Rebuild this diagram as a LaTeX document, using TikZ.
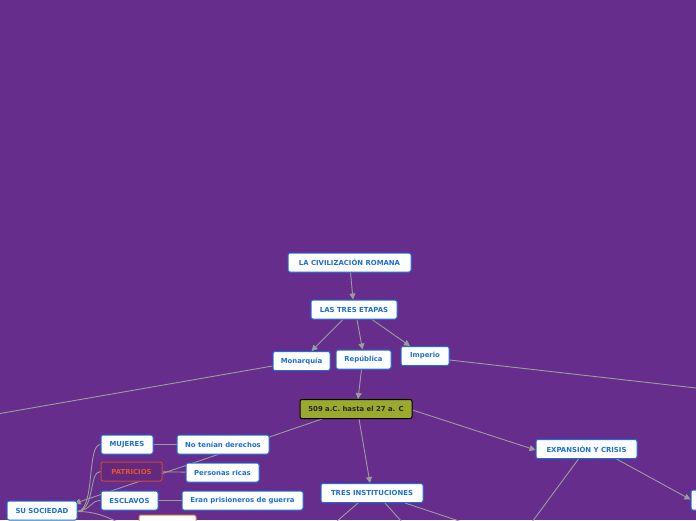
\documentclass[tikz,border=0pt]{standalone}
\usepackage{fontspec}
\setmainfont{DejaVu Sans}
\usetikzlibrary{arrows.meta}
\pgfdeclarelayer{bottom}
\pgfdeclarelayer{lines}
\pgfsetlayers{bottom,lines,main}
\definecolor{bg}{HTML}{662D8C}
\definecolor{tblue}{HTML}{1C6FD8}
\definecolor{lgray}{HTML}{9C9C9C}
\definecolor{olivebox}{HTML}{9BAA2C}
\definecolor{pattext}{HTML}{E8542C}
\definecolor{patborder}{HTML}{C84A35}
\definecolor{patfill}{HTML}{62297F}
\definecolor{orangeb}{HTML}{E08A4A}
\tikzset{
  box/.style={draw=tblue, fill=white, rounded corners=2pt, line width=1pt,
    text=tblue, font=\fontsize{6.9}{8}\selectfont\bfseries, inner sep=0pt,
    minimum height=19pt},
  conn/.style={draw=lgray, line width=0.9pt},
  arr/.style={conn, -{Triangle[length=6pt,width=6pt]}}
}
\begin{document}
\begin{tikzpicture}[x=1pt,y=-1pt]
\begin{pgfonlayer}{bottom}
\fill[bg] (0,0) rectangle (696,520);
\end{pgfonlayer}
\useasboundingbox (0,0) rectangle (696,520);
\clip (0,0) rectangle (696,520);

% nodes
\node[box, minimum width=123pt] (civ) at (349.5,262.5) {LA CIVILIZACIÓN ROMANA};
\node[box, minimum width=86pt] (eta) at (354,309.5) {LAS TRES ETAPAS};
\node[box, minimum width=57pt] (mon) at (301.5,361) {Monarquía};
\node[box, minimum width=55pt] (rep) at (363.5,359.5) {República};
\node[box, minimum width=48pt] (imp) at (425,356) {Imperio};
\node[box, minimum width=112pt, fill=olivebox, draw=black, text=black!85] (fec) at (356,409) {509 a.C. hasta el 27 a. C};
\node[box, minimum width=102pt] (tres) at (372,493) {TRES INSTITUCIONES};
\node[box, minimum width=101pt] (exp) at (586.5,449) {EXPANSIÓN Y CRISIS};
\node[box, minimum width=40pt, minimum height=20pt] (rb) at (711,500) {};
\node[box, minimum width=52pt] (muj) at (127,444.5) {MUJERES};
\node[box, minimum width=92pt] (nod) at (223,444.5) {No tenían derechos};
\node[box, minimum width=61pt, fill=patfill, draw=patborder, text=pattext] (pat) at (131.5,471.5) {PATRICIOS};
\node[box, minimum width=73pt] (per) at (222.5,472.5) {Personas ricas};
\node[box, minimum width=57pt] (esc) at (129.5,500.5) {ESCLAVOS};
\node[box, minimum width=121pt] (era) at (242.5,500.5) {Eran prisioneros de guerra};
\node[box, minimum width=70pt] (soc) at (42,510.5) {SU SOCIEDAD};
\node[box, minimum width=57pt, minimum height=20pt, draw=orangeb] (bb) at (167.5,525) {};

% free ends
\coordinate (offL) at (0,413.5);
\coordinate (offR) at (696,388);
\coordinate (offE) at (532,522);
\coordinate (offT1) at (336,522);
\coordinate (offT2) at (402,522);
\coordinate (offT3) at (462,522);
\coordinate (offS) at (118,522);

\begin{pgfonlayer}{lines}
\draw[arr] ([xshift=1pt]civ.south) -- ([xshift=-1pt]eta.north);
\draw[arr] ([xshift=-11pt]eta.south) -- ([xshift=10pt]mon.north);
\draw[arr] ([xshift=3pt]eta.south) -- ([xshift=-1pt]rep.north);
\draw[arr] ([xshift=18pt]eta.south) -- ([xshift=-15pt]imp.north);
\draw[arr] ([xshift=-2pt]rep.south) -- ([xshift=2pt]fec.north);
\draw[arr] ([xshift=3pt]fec.south) -- ([xshift=-2pt]tres.north);
\draw[arr] (fec.east) ++(0,1) -- ([yshift=-1pt]exp.west);
\draw[arr] ([xshift=-34pt]fec.south) -- ([xshift=-3pt,yshift=-3pt]soc.north east);
\draw[conn] (mon.west) ++(0,5) -- (offL);
\draw[conn] (imp.east) ++(0,4) -- (offR);
\draw[arr] ([xshift=30pt]exp.south) -- ([yshift=-10pt]rb.north west);
\draw[conn] ([xshift=-8pt]exp.south) -- (offE);
\draw[conn] ([xshift=-14pt]tres.south) -- (offT1);
\draw[conn] ([xshift=13pt]tres.south) -- (offT2);
\draw[conn] ([xshift=33pt]tres.south) -- (offT3);

\draw[conn] ([yshift=-1pt]soc.east) .. controls +(18,-2) and +(-14,0) .. (muj.west);
\draw[conn] ([yshift=-1pt]soc.east) .. controls +(18,-2) and +(-12,0) .. (pat.west);
\draw[conn] ([yshift=-1pt]soc.east) .. controls +(14,-2) and +(-10,0) .. (esc.west);
\draw[conn] ([yshift=-1pt]soc.east) .. controls +(20,0) and +(-10,-4) .. (offS);

\draw[conn] (muj) -- (nod);
\draw[conn] (pat) -- (per);
\draw[conn] (esc) -- (era);
\end{pgfonlayer}
\end{tikzpicture}
\end{document}
